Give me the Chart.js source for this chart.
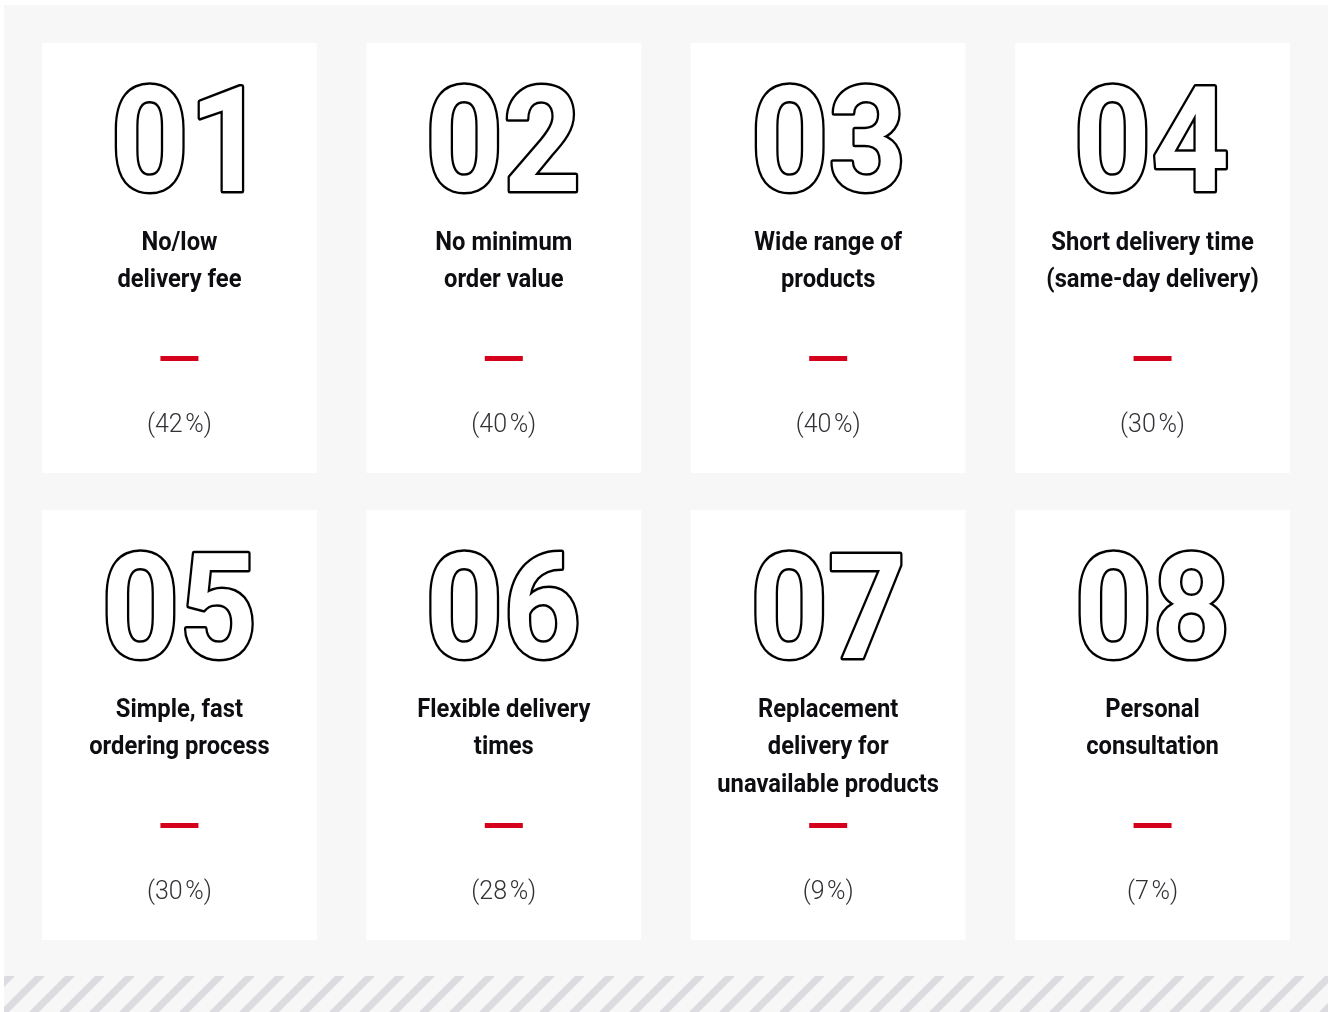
<!DOCTYPE html>
<html>
<head>
<meta charset="utf-8">
<script src="https://cdn.jsdelivr.net/npm/chart.js@4.4.1/dist/chart.umd.min.js"></script>
<style>
  html, body { margin: 0; padding: 0; background: #ffffff; }
  #wrap { width: 1328px; height: 1012px; position: relative; }
</style>
</head>
<body>
<div id="wrap"><canvas id="cardsChart"></canvas></div>
<script>
// grid of cards: 4 columns, 2 rows
var columns = ['col1', 'col2', 'col3', 'col4'];
var rows = [0, 1];

var cardNumbers = ['01', '02', '03', '04', '05', '06', '07', '08'];
var cardLabels = [
    ['No/low', 'delivery fee'],
    ['No minimum', 'order value'],
    ['Wide range of', 'products'],
    ['Short delivery time', '(same-day delivery)'],
    ['Simple, fast', 'ordering process'],
    ['Flexible delivery', 'times'],
    ['Replacement', 'delivery for', 'unavailable products'],
    ['Personal', 'consultation']
];
var shares = [42, 40, 40, 30, 30, 28, 9, 7];

var panelGray = '#f7f7f7';
var cardInset = { left: 24.75, right: 24.75, top: 18.5, bottom: 18.5 };

var backgroundPlugin = {
    id: 'panelBackground',
    beforeDraw: function(chart) {
        var ctx = chart.ctx;
        var w = chart.width, h = chart.height;
        ctx.save();
        ctx.fillStyle = '#ffffff';
        ctx.fillRect(0, 0, w, h);
        ctx.fillStyle = panelGray;
        ctx.fillRect(4, 5, w - 4, h - 5);

        // hatched strip at the bottom
        ctx.beginPath();
        ctx.rect(4, 976, w - 4, h - 976);
        ctx.clip();
        ctx.strokeStyle = '#dcdce0';
        ctx.lineWidth = 7;
        for (var x = -60; x < w + 60; x += 30) {
            ctx.beginPath();
            ctx.moveTo(x + 2, h + 2);
            ctx.lineTo(x + 2 + (h - 976 + 4), 976 - 2);
            ctx.stroke();
        }
        ctx.restore();
    }
};

var cardTextPlugin = {
    id: 'cardText',
    afterDatasetsDraw: function(chart) {
        var ctx = chart.ctx;
        chart.data.datasets.forEach(function(ds, i) {
            var meta = chart.getDatasetMeta(i);
            meta.data.forEach(function(bar, j) {
                var k = i * columns.length + j;
                var cx = bar.x;
                var top = Math.min(bar.y, bar.base) + cardInset.top;

                ctx.save();
                // big outlined number: thick stroke, then white fill on top
                // so only the outer half of the outline shows
                ctx.save();
                ctx.font = 'bold 146px Roboto';
                ctx.textAlign = 'left';
                ctx.textBaseline = 'alphabetic';
                var m = ctx.measureText(cardNumbers[k]);
                var inkMid = (m.actualBoundingBoxRight - m.actualBoundingBoxLeft) / 2;
                ctx.translate(cx, top + 147.5);
                ctx.scale(0.93, 1);
                ctx.lineJoin = 'round';
                ctx.lineWidth = 5;
                ctx.strokeStyle = '#000000';
                ctx.strokeText(cardNumbers[k], -inkMid, 0);
                ctx.fillStyle = '#ffffff';
                ctx.fillText(cardNumbers[k], -inkMid, 0);
                ctx.restore();

                // label lines, slightly condensed
                ctx.textAlign = 'center';
                ctx.fillStyle = '#0e0e12';
                ctx.font = 'bold 25px Roboto';
                ctx.textBaseline = 'middle';
                cardLabels[k].forEach(function(line, n) {
                    ctx.save();
                    ctx.translate(cx, top + 200.5 + n * 37.5);
                    ctx.scale(0.95, 1);
                    ctx.fillText(line, 0, 0);
                    ctx.restore();
                });

                // red dash
                ctx.fillStyle = '#d5001c';
                ctx.fillRect(cx - 19, top + 313, 38, 5);

                // share
                ctx.fillStyle = '#313136';
                ctx.font = '300 25px Roboto';
                ctx.fillText('(' + shares[k] + '\u200a%)', cx, top + 383);
                ctx.restore();
            });
        });
    }
};

var datasets = rows.map(function(r) {
    return {
        label: 'row ' + (r + 1),
        data: columns.map(function() { return [r, r + 1]; }),
        backgroundColor: '#ffffff',
        borderColor: panelGray,
        borderWidth: cardInset,
        borderSkipped: false,
        grouped: false,
        categoryPercentage: 1,
        barPercentage: 1,
        inflateAmount: 0
    };
});

new Chart(document.getElementById('cardsChart'), {
    type: 'bar',
    data: {
        labels: columns,
        datasets: datasets
    },
    options: {
        responsive: true,
        maintainAspectRatio: false,
        animation: false,
        layout: {
            padding: { left: 17.25, right: 13.25, top: 24.5, bottom: 53.5 }
        },
        scales: {
            x: { display: false },
            y: { display: false, min: 0, max: 2, reverse: true }
        },
        plugins: {
            legend: { display: false },
            tooltip: { enabled: false }
        }
    },
    plugins: [backgroundPlugin, cardTextPlugin]
});
</script>
</body>
</html>
